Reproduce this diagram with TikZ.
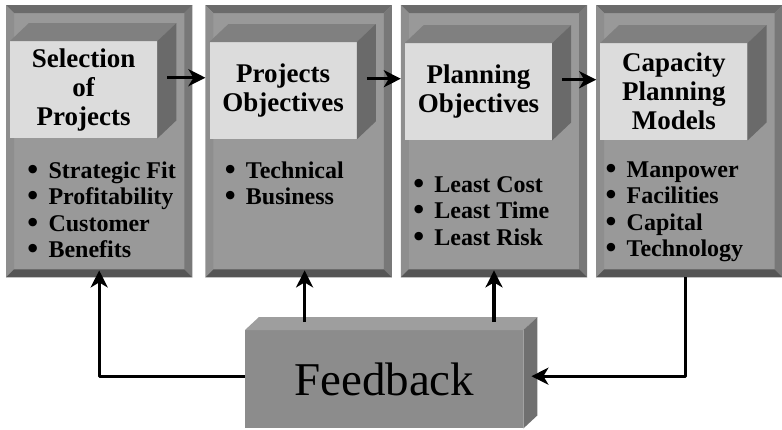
\documentclass[tikz,border=0pt]{standalone}
\usepackage{fontspec}
\setmainfont{Liberation Serif}
\newfontfamily\bulfont{DejaVu Sans}
\usetikzlibrary{arrows.meta, positioning, calc}

\definecolor{paneface}{RGB}{153,153,153}
\definecolor{bevelA}{RGB}{107,107,107}
\definecolor{bevelB}{RGB}{142,142,142}
\definecolor{bevelC}{RGB}{120,120,120}
\definecolor{bevelD}{RGB}{85,85,85}
\definecolor{boxfront}{RGB}{220,220,220}
\definecolor{boxtop}{RGB}{128,128,128}
\definecolor{boxside}{RGB}{106,106,106}
\definecolor{fbfront}{RGB}{140,140,140}
\definecolor{fbtop}{RGB}{158,158,158}
\definecolor{fbside}{RGB}{112,112,112}

% bevelled frame round a panel
\newcommand{\panelframe}[1]{%
  \fill[bevelA] (#1.north west) -- (#1.north east) -- ++(-8,8) -- ($(#1.north west)+(8,8)$) -- cycle;
  \fill[bevelB] (#1.north west) -- ($(#1.north west)+(8,8)$) -- ($(#1.south west)+(8,-8)$) -- (#1.south west) -- cycle;
  \fill[bevelC] (#1.north east) -- ($(#1.north east)+(-8,8)$) -- ($(#1.south east)+(-8,-8)$) -- (#1.south east) -- cycle;
  \fill[bevelD] (#1.south west) -- ($(#1.south west)+(8,-8)$) -- ($(#1.south east)+(-8,-8)$) -- (#1.south east) -- cycle;
}
% top and side faces of a block
\newcommand{\boxsides}[5]{%
  \fill[#4] (#1.north west) -- ++(#2,-#3) -- ($(#1.north east)+(#2,-#3)$) -- (#1.north east) -- cycle;
  \fill[#5] (#1.north east) -- ($(#1.north east)+(#2,-#3)$) -- ($(#1.south east)+(#2,-#3)$) -- (#1.south east) -- cycle;
}
\newcommand{\bul}{{\bulfont\textbullet}\hspace{8pt}}

\begin{document}
\begin{tikzpicture}[x=1pt, y=-1pt,
  panel/.style={fill=paneface, minimum width=186pt, minimum height=272pt, inner sep=0pt},
  titlebox/.style={fill=boxfront, minimum width=147pt, minimum height=97pt, inner sep=0pt,
                   align=center, font=\fontsize{27}{29}\selectfont\bfseries},
  item/.style={anchor=base west, inner sep=0pt, font=\fontsize{24}{26}\selectfont\bfseries},
  fbbox/.style={fill=fbfront, minimum width=278pt, minimum height=98pt, inner sep=0pt,
                font=\fontsize{47}{50}\selectfont},
  arr/.style={-{Stealth[length=17pt, width=17pt, inset=5pt]}, line width=3.3pt, line join=round}
]
\useasboundingbox (0,0) rectangle (782,429);

\node[panel, anchor=north west] (p1) at (6,5) {};
\node[panel, right=13pt of p1] (p2) {};
\node[panel, right=9pt of p2] (p3) {};
\node[panel, right=9pt of p3] (p4) {};
\panelframe{p1}
\panelframe{p2}
\panelframe{p3}
\panelframe{p4}

\node[titlebox, anchor=north west] (t1) at ($(p1.north west)+(4,36)$) {Selection\\of\\Projects};
\node[titlebox, anchor=north west] (t2) at ($(p2.north west)+(4,37)$) {Projects\\Objectives};
\node[titlebox, anchor=north west] (t3) at ($(p3.north west)+(4,38)$) {Planning\\Objectives};
\node[titlebox, anchor=north west] (t4) at ($(p4.north west)+(4,38)$) {Capacity\\Planning\\Models};
\boxsides{t1}{19}{18}{boxtop}{boxside}
\boxsides{t2}{19}{18}{boxtop}{boxside}
\boxsides{t3}{19}{18}{boxtop}{boxside}
\boxsides{t4}{19}{18}{boxtop}{boxside}

\node[item] (b11) at ($(p1.north west)+(19,173)$) {\bul Strategic Fit};
\node[item, below=26.5pt of b11.base west, anchor=base west] (b12) {\bul Profitability};
\node[item, below=26.5pt of b12.base west, anchor=base west] (b13) {\bul Customer};
\node[item, below=26.5pt of b13.base west, anchor=base west] (b14) {\bul Benefits};

\node[item] (b21) at ($(p2.north west)+(17,173)$) {\bul Technical};
\node[item, below=26.5pt of b21.base west, anchor=base west] (b22) {\bul Business};

\node[item] (b31) at ($(p3.north west)+(10,187)$) {\bul Least Cost};
\node[item, below=26.5pt of b31.base west, anchor=base west] (b32) {\bul Least Time};
\node[item, below=26.5pt of b32.base west, anchor=base west] (b33) {\bul Least Risk};

\node[item] (b41) at ($(p4.north west)+(7,172)$) {\bul Manpower};
\node[item, below=26.5pt of b41.base west, anchor=base west] (b42) {\bul Facilities};
\node[item, below=26.5pt of b42.base west, anchor=base west] (b43) {\bul Capital};
\node[item, below=26.5pt of b43.base west, anchor=base west] (b44) {\bul Technology};

\node[fbbox, anchor=north west] (fb) at (245,330) {Feedback};
\boxsides{fb}{14}{13}{fbtop}{fbside}

\draw[arr] ([xshift=10pt,yshift=12pt]t1.east) coordinate (a1) -- (a1 -| p2.west);
\draw[arr] ([xshift=10pt,yshift=12pt]t2.east) coordinate (a2) -- (a2 -| p3.west);
\draw[arr] ([xshift=10pt,yshift=12pt]t3.east) coordinate (a3) -- (a3 -| p4.west);

\draw[arr] ([yshift=3pt]fb.west) -| ([yshift=7pt]p1.south);
\draw[arr] ($(p2.south |- fb.north)+(6,-8)$) -- ($(p2.south)+(6,-7)$);
\draw[arr] ($(p3.south |- fb.north)+(0,-8)$) -- ($(p3.south)+(0,-7)$);
\draw[arr] ([xshift=-4pt]p4.south) |- ([xshift=8pt,yshift=3pt]fb.east);
\end{tikzpicture}
\end{document}
